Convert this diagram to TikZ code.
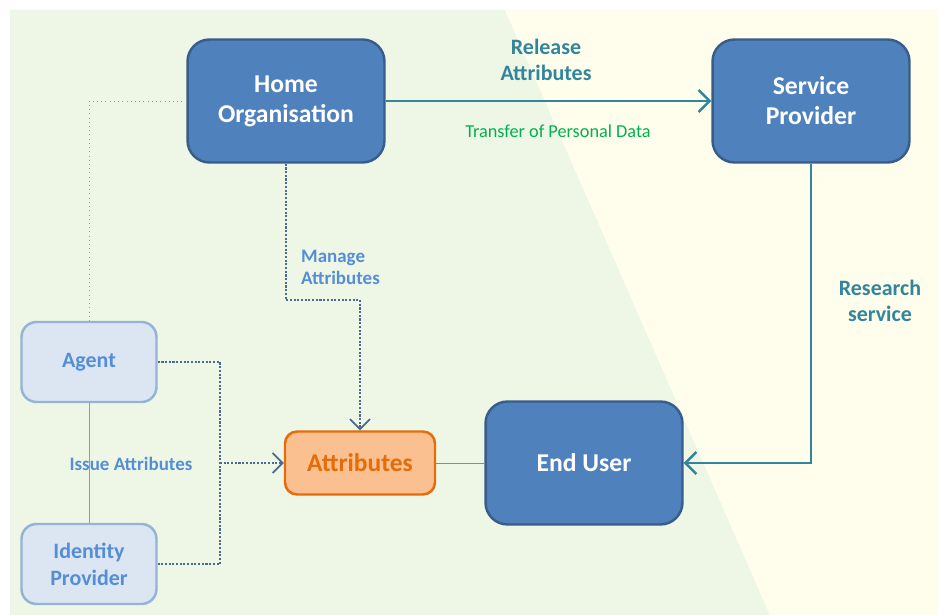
\documentclass[tikz,border=0pt]{standalone}
\usepackage{fontspec}
\setmainfont{Carlito}
\usepackage{tikz}
\usetikzlibrary{arrows.meta}
\usepackage{color}

\definecolor{fondvert}{HTML}{EEF7E6}
\definecolor{fondjaune}{HTML}{FFFDEB}
\definecolor{bleufonce}{HTML}{4F81BD}
\definecolor{bordfonce}{HTML}{385D8A}
\definecolor{bleuclair}{HTML}{DCE6F2}
\definecolor{bordclair}{HTML}{95B3D7}
\definecolor{texteclair}{HTML}{558ED5}
\definecolor{orangeclair}{HTML}{FAC090}
\definecolor{orangefonce}{HTML}{E46C0A}
\definecolor{sarcelle}{HTML}{31859C}
\definecolor{vert}{HTML}{00B050}
\definecolor{pointille}{HTML}{4A6A8F}

\tikzset{
	grandbloc/.style={draw=bordfonce,fill=bleufonce,line width=1.4pt,rounded corners=0.44cm,
		minimum width=3.94cm,minimum height=2.46cm,text=white,font=\fontsize{14.6}{17}\selectfont\bfseries,align=center},
	petitbloc/.style={draw=bordclair,fill=bleuclair,line width=1.4pt,rounded corners=0.3cm,
		minimum width=2.7cm,minimum height=1.6cm,text=texteclair,font=\fontsize{12.5}{15.3}\selectfont\bfseries,align=center},
	attrbloc/.style={draw=orangefonce,fill=orangeclair,line width=1.4pt,rounded corners=0.24cm,
		minimum width=3.0cm,minimum height=1.26cm,text=orangefonce,font=\fontsize{14.5}{16}\selectfont\bfseries},
	fleche/.style={draw=sarcelle,line width=1.7pt,-{Straight Barb[length=2.2mm,width=4.4mm,line width=1.4pt]}},
	pointilles/.style={draw=pointille,line width=1.2pt,dash pattern=on 1.2pt off 0.9pt},
	flechepoint/.style={pointilles,-{Straight Barb[length=2mm,width=4mm,line width=1pt]}},
	labelsarcelle/.style={text=sarcelle,font=\fontsize{12.5}{14.7}\selectfont\bfseries,align=center},
	labelclair/.style={text=texteclair,font=\fontsize{10.8}{12.5}\selectfont\bfseries,align=center},
}

\begin{document}
\begin{tikzpicture}[x=0.02cm,y=-0.02cm]
%					Fond :
					\useasboundingbox (0,0) rectangle (938,615);
					\fill[white] (0,0) rectangle (938,615);
					\fill[fondvert] (10,10) -- (505,10) -- (770,615) -- (10,615) -- cycle;
					\fill[fondjaune] (505,10) -- (938,10) -- (938,615) -- (770,615) -- cycle;
%					Blocs :
					\node[grandbloc] (home) at (286,101) {Home\\Organisation};
					\node[grandbloc] (service) at (811,101) {Service\\Provider};
					\node[grandbloc] (user) at (584,463) {End User};
					\node[attrbloc] (attr) at (360,463) {Attributes};
					\node[petitbloc] (agent) at (89,362) {Agent};
					\node[petitbloc] (idp) at (89,564) {Identity\\Provider};
%					Points de jonction :
					\coordinate (coude) at (286,300);
					\coordinate (jonction) at (220,463);
%					Liaisons fines :
					\draw[gray!80,thin,dotted] (home.west) -| (agent.north);
					\draw[gray!80,thin] (agent.south) -- (idp.north);
					\draw[bordclair!80!black,thin] (attr.east) -- (user.west);
%					Flux principaux :
					\draw[fleche] (home) -- (service);
					\draw[fleche] (service.south) |- (user.east);
%					Flux en pointillés :
					\draw[flechepoint] (home.south) -- (coude) -| (attr.north);
					\draw[pointilles] (agent.east) -| (jonction) |- (idp.east);
					\draw[flechepoint] (jonction) -- (attr.west);
%					Étiquettes :
					\node[labelsarcelle] (release) at (546,60) {Release\\Attributes};
					\node[text=vert,font=\fontsize{10.4}{12}\selectfont] (transfer) at (558,131) {Transfer of Personal Data};
					\node[labelsarcelle] (research) at (880,301) {Research\\service};
					\node[labelclair,align=left,anchor=west] (manage) at (295,267) {Manage\\Attributes};
					\node[labelclair] (issue) at (131,464) {Issue Attributes};
				\end{tikzpicture}
\end{document}
